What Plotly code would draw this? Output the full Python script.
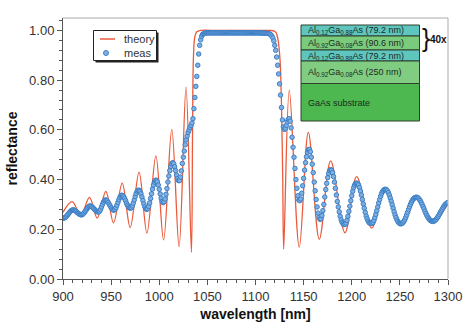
import plotly.graph_objects as go

# ---------------- data ----------------
# measured reflectance, one reading per nm from 900 nm to 1300 nm
meas_start_nm = 900
meas_reflectance = [
    0.244, 0.245, 0.247, 0.250, 0.254, 0.259, 0.264, 0.269, 0.273, 0.276,  # 900
    0.278, 0.278, 0.276, 0.274, 0.271, 0.267, 0.264, 0.261, 0.259, 0.258,  # 910
    0.259, 0.262, 0.266, 0.272, 0.277, 0.283, 0.288, 0.292, 0.294, 0.293,  # 920
    0.291, 0.287, 0.283, 0.279, 0.275, 0.272, 0.270, 0.270, 0.273, 0.280,  # 930
    0.290, 0.300, 0.309, 0.315, 0.318, 0.317, 0.314, 0.308, 0.301, 0.294,  # 940
    0.287, 0.281, 0.278, 0.277, 0.280, 0.287, 0.297, 0.308, 0.319, 0.328,  # 950
    0.334, 0.337, 0.335, 0.331, 0.324, 0.315, 0.305, 0.297, 0.290, 0.286,  # 960
    0.285, 0.287, 0.294, 0.305, 0.318, 0.332, 0.344, 0.353, 0.357, 0.357,  # 970
    0.352, 0.343, 0.330, 0.316, 0.302, 0.290, 0.283, 0.280, 0.283, 0.292,  # 980
    0.306, 0.324, 0.343, 0.362, 0.378, 0.390, 0.397, 0.397, 0.391, 0.378,  # 990
    0.361, 0.342, 0.325, 0.312, 0.307, 0.311, 0.322, 0.341, 0.364, 0.390,  # 1000
    0.414, 0.436, 0.453, 0.464, 0.468, 0.464, 0.452, 0.436, 0.418, 0.404,  # 1010
    0.396, 0.396, 0.410, 0.435, 0.465, 0.490, 0.515, 0.540, 0.560, 0.575,  # 1020
    0.590, 0.600, 0.610, 0.618, 0.628, 0.645, 0.685, 0.730, 0.775, 0.815,  # 1030
    0.860, 0.905, 0.940, 0.962, 0.976, 0.984, 0.987, 0.989, 0.990, 0.990,  # 1040
    0.990, 0.991, 0.990, 0.990, 0.991, 0.990, 0.990, 0.991, 0.990, 0.990,  # 1050
    0.991, 0.990, 0.990, 0.991, 0.990, 0.990, 0.991, 0.990, 0.990, 0.991,  # 1060
    0.990, 0.990, 0.991, 0.990, 0.990, 0.991, 0.990, 0.990, 0.991, 0.990,  # 1070
    0.990, 0.991, 0.990, 0.990, 0.991, 0.990, 0.990, 0.991, 0.990, 0.990,  # 1080
    0.991, 0.990, 0.990, 0.991, 0.990, 0.990, 0.991, 0.990, 0.990, 0.990,  # 1090
    0.990, 0.991, 0.990, 0.990, 0.990, 0.990, 0.990, 0.990, 0.989, 0.989,  # 1100
    0.989, 0.989, 0.988, 0.988, 0.987, 0.985, 0.982, 0.977, 0.970, 0.958,  # 1110
    0.940, 0.920, 0.893, 0.860, 0.825, 0.785, 0.740, 0.690, 0.640, 0.612,  # 1120
    0.602, 0.606, 0.618, 0.632, 0.642, 0.645, 0.635, 0.608, 0.570, 0.530,  # 1130
    0.490, 0.445, 0.400, 0.365, 0.335, 0.318, 0.315, 0.322, 0.345, 0.375,  # 1140
    0.405, 0.438, 0.468, 0.492, 0.510, 0.520, 0.522, 0.512, 0.490, 0.462,  # 1150
    0.428, 0.390, 0.355, 0.320, 0.290, 0.265, 0.248, 0.240, 0.242, 0.255,  # 1160
    0.275, 0.300, 0.330, 0.360, 0.385, 0.408, 0.425, 0.436, 0.440, 0.437,  # 1170
    0.428, 0.412, 0.390, 0.365, 0.338, 0.312, 0.290, 0.270, 0.252, 0.238,  # 1180
    0.228, 0.222, 0.219, 0.220, 0.225, 0.236, 0.252, 0.272, 0.293, 0.315,  # 1190
    0.335, 0.353, 0.368, 0.378, 0.384, 0.386, 0.384, 0.378, 0.368, 0.354,  # 1200
    0.338, 0.320, 0.302, 0.285, 0.268, 0.253, 0.242, 0.233, 0.227, 0.224,  # 1210
    0.223, 0.224, 0.228, 0.236, 0.247, 0.260, 0.275, 0.290, 0.306, 0.320,  # 1220
    0.333, 0.344, 0.352, 0.357, 0.360, 0.361, 0.359, 0.355, 0.348, 0.338,  # 1230
    0.326, 0.313, 0.299, 0.285, 0.271, 0.258, 0.247, 0.238, 0.231, 0.226,  # 1240
    0.223, 0.222, 0.223, 0.226, 0.231, 0.238, 0.247, 0.257, 0.268, 0.279,  # 1250
    0.290, 0.300, 0.309, 0.316, 0.322, 0.326, 0.328, 0.329, 0.328, 0.326,  # 1260
    0.322, 0.316, 0.309, 0.301, 0.292, 0.283, 0.273, 0.264, 0.256, 0.249,  # 1270
    0.243, 0.238, 0.235, 0.233, 0.232, 0.232, 0.234, 0.237, 0.241, 0.247,  # 1280
    0.253, 0.260, 0.267, 0.274, 0.281, 0.288, 0.294, 0.299, 0.303, 0.306,  # 1290
    0.308,                                                                 # 1300
]
meas_wavelength = [meas_start_nm + i for i in range(len(meas_reflectance))]

# simulated (transfer-matrix) reflectance: turning points of the curve
theory_wavelength = [
    900, 909.5, 918.5, 927.5, 935.5, 944.5, 952.5, 961.5, 969.8, 979,
    987.2, 996.5, 1004.5, 1013, 1020.6, 1027.8, 1033.4, 1034.6, 1035.6, 1037,
    1039, 1043, 1060, 1080, 1100, 1115, 1119, 1121.5, 1123.5, 1125.5,
    1127, 1128.3, 1129.3, 1135.1, 1145.5, 1154.9, 1166.3, 1178.1, 1193, 1205.1,
    1220.7, 1235.2, 1251.9, 1267.5, 1284.8, 1300,
]
theory_reflectance = [
    0.268, 0.311, 0.256, 0.328, 0.245, 0.352, 0.226, 0.386, 0.207, 0.430,
    0.185, 0.495, 0.157, 0.602, 0.130, 0.772, 0.107, 0.600, 0.900, 0.975,
    0.995, 1.000, 1.000, 1.000, 1.000, 1.000, 0.998, 0.990, 0.960, 0.880,
    0.700, 0.400, 0.120, 0.760, 0.128, 0.590, 0.160, 0.475, 0.186, 0.412,
    0.205, 0.367, 0.222, 0.332, 0.232, 0.305,
]

x_ticks = [900, 950, 1000, 1050, 1100, 1150, 1200, 1250, 1300]
y_ticks = [0.0, 0.2, 0.4, 0.6, 0.8, 1.0]

# layer stack of the sample (top to bottom)
layer_labels = [
    "Al<sub>0.12</sub>Ga<sub>0.88</sub>As (79.2 nm)",
    "Al<sub>0.92</sub>Ga<sub>0.08</sub>As (90.6 nm)",
    "Al<sub>0.12</sub>Ga<sub>0.88</sub>As (79.2 nm)",
    "Al<sub>0.92</sub>Ga<sub>0.08</sub>As (250 nm)",
    "GaAs substrate",
]

# ---------------- styling ----------------
FONT = "Liberation Sans, Arial, sans-serif"
RED = "#ea5a3a"
BLUE_FILL = "#7eb1e2"
BLUE_EDGE = "#3d7fc6"
AXIS = "#555555"
TXT = "#333333"

W, H = 474, 328
ML, MR, MT, MB = 63, 26, 18, 49
PW, PH = W - ML - MR, H - MT - MB


def px(x):
    """pixel column -> paper x"""
    return (x - ML) / PW


def py(y):
    """pixel row -> paper y"""
    return (H - MB - y) / PH


fig = go.Figure()

fig.add_trace(go.Scatter(
    x=theory_wavelength, y=theory_reflectance, mode="lines", name="theory",
    line=dict(color=RED, width=1.3, shape="spline", smoothing=1.0),
))
fig.add_trace(go.Scatter(
    x=meas_wavelength, y=meas_reflectance, mode="markers", name="meas",
    marker=dict(size=4.5, color=BLUE_FILL, line=dict(color=BLUE_EDGE, width=1)),
))

shapes = []
annotations = []

# light frame on top and right
shapes.append(dict(type="line", xref="paper", yref="paper", x0=0, x1=1, y0=1, y1=1,
                   line=dict(color="#aaaaaa", width=1)))
shapes.append(dict(type="line", xref="paper", yref="paper", x0=1, x1=1, y0=0, y1=1,
                   line=dict(color="#aaaaaa", width=1)))

# legend box with drop shadow
lx0, lx1, ly0, ly1 = 93.5, 156.5, 30.5, 60.5
shapes.append(dict(type="rect", xref="paper", yref="paper",
                   x0=px(lx0 + 2), x1=px(lx1 + 2), y0=py(ly1 + 2), y1=py(ly0 + 2),
                   line=dict(width=0), fillcolor="#222222", layer="above"))
shapes.append(dict(type="rect", xref="paper", yref="paper",
                   x0=px(lx0), x1=px(lx1), y0=py(ly1), y1=py(ly0),
                   line=dict(color="#222222", width=1), fillcolor="white", layer="above"))
shapes.append(dict(type="line", xref="paper", yref="paper",
                   x0=px(100), x1=px(115), y0=py(39), y1=py(39),
                   line=dict(color=RED, width=1.5), layer="above"))
shapes.append(dict(type="circle", xref="paper", yref="paper",
                   x0=px(103.5), x1=px(108.5), y0=py(55.5), y1=py(50.5),
                   line=dict(color=BLUE_EDGE, width=1), fillcolor=BLUE_FILL, layer="above"))
for label, yy in (("theory", 39), ("meas", 53)):
    annotations.append(dict(text=label, xref="paper", yref="paper", x=px(121.5), y=py(yy),
                            xanchor="left", yanchor="middle", showarrow=False,
                            font=dict(family=FONT, size=11, color=TXT)))

# sample layer stack
stack_x0, stack_x1 = 301, 419.5
layer_edges = [25, 36, 50, 61, 83.5, 121]
layer_colors = ["#5fc6bf", "#7acb7c", "#5fc6bf", "#80cd82", "#4cb84f"]
for i, (label, color) in enumerate(zip(layer_labels, layer_colors)):
    top, bot = layer_edges[i], layer_edges[i + 1]
    shapes.append(dict(type="rect", xref="paper", yref="paper",
                       x0=px(stack_x0), x1=px(stack_x1), y0=py(bot), y1=py(top),
                       line=dict(color="#2f3f2f", width=1), fillcolor=color, layer="above"))
    annotations.append(dict(text=label, xref="paper", yref="paper",
                            x=px(306), y=py((top + bot) / 2 + 0.5),
                            xanchor="left", yanchor="middle", showarrow=False,
                            font=dict(family=FONT, size=9, color="#1d2b1d")))

# brace marking the repeated pair
annotations.append(dict(text="}", xref="paper", yref="paper", x=px(420), y=py(38),
                        xanchor="left", yanchor="middle", showarrow=False,
                        font=dict(family=FONT, size=25, color="#111111")))
annotations.append(dict(text="<b>40x</b>", xref="paper", yref="paper", x=px(427.5), y=py(39.5),
                        xanchor="left", yanchor="middle", showarrow=False,
                        font=dict(family=FONT, size=10, color="#111111")))

axis_common = dict(
    showgrid=False, zeroline=False, showline=True, linecolor=AXIS, linewidth=1,
    ticks="outside", ticklen=5, tickwidth=1, tickcolor=AXIS,
    tickfont=dict(family=FONT, size=13, color=TXT),
)

fig.update_xaxes(
    range=[900, 1300], tickvals=x_ticks, **axis_common,
    minor=dict(dtick=10, tick0=900, ticks="outside", ticklen=3, tickcolor=AXIS, showgrid=False),
    title=dict(text="<b>wavelength [nm]</b>", standoff=6,
               font=dict(family=FONT, size=14, color="#111111")),
)
fig.update_yaxes(
    range=[0, 1.05], tickvals=y_ticks, tickformat=".2f", **axis_common,
    minor=dict(dtick=0.04, tick0=0, ticks="outside", ticklen=3, tickcolor=AXIS, showgrid=False),
    title=dict(text="<b>reflectance</b>", standoff=8,
               font=dict(family=FONT, size=14, color="#111111")),
)

fig.update_layout(
    width=W, height=H, margin=dict(l=ML, r=MR, t=MT, b=MB, autoexpand=False),
    paper_bgcolor="white", plot_bgcolor="white", showlegend=False,
    shapes=shapes, annotations=annotations,
    font=dict(family=FONT, color=TXT),
)

fig.write_html("out.html")
